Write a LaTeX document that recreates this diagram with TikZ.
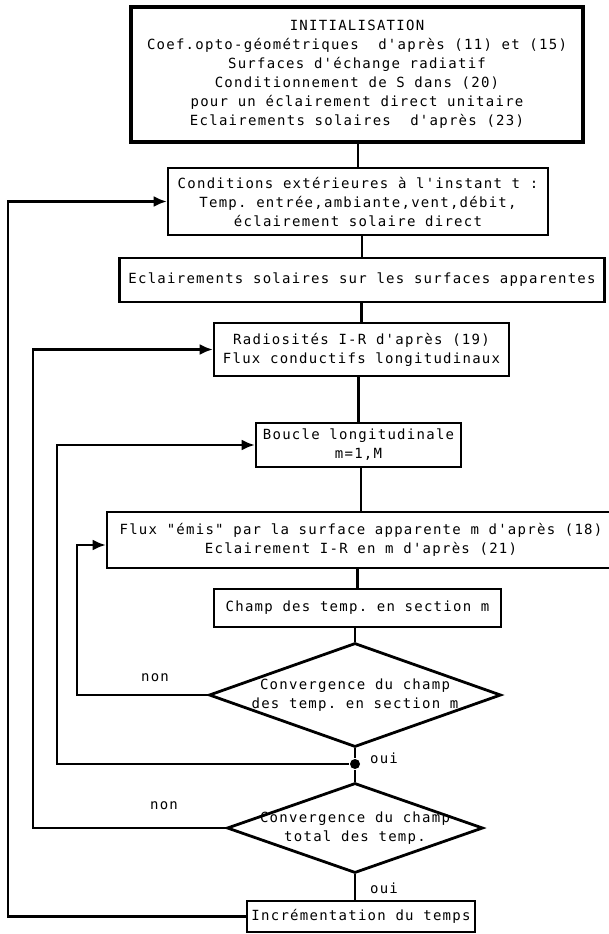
\documentclass[tikz,border=0pt]{standalone}
\usepackage{fontspec}
\setmonofont{DejaVu Sans Mono}[LetterSpace=9]
\usetikzlibrary{shapes.geometric,arrows.meta}
\begin{document}
\begin{tikzpicture}[x=1pt, y=-1pt, line width=2.4pt,
  font=\ttfamily\fontsize{14}{19}\selectfont,
  box/.style={draw, line width=2.6pt, align=center, inner sep=0pt},
  test/.style={draw, diamond, line width=2.8pt, inner sep=0pt},
  jdot/.style={circle, fill, inner sep=0pt, minimum size=10pt},
  >={Latex[length=13pt,width=11pt]}]
\useasboundingbox (0,0) rectangle (609,934);
\node[box, line width=3.6pt, minimum width=452, minimum height=135] (init) at (357,74.5)
  {INITIALISATION\\Coef.opto-géométriques~~d'après (11) et (15)\\Surfaces d'échange radiatif\\
   Conditionnement de S dans (20)\\pour un éclairement direct unitaire\\Eclairements solaires~~d'après (23)};
\node[box, minimum width=380, minimum height=67] (cond) at (358,201.5)
  {Conditions extérieures à l'instant t :\\Temp. entrée,ambiante,vent,débit,\\éclairement solaire direct};
\node[box, minimum width=485, minimum height=44] (sol) at (362,280)
  {Eclairements solaires sur les surfaces apparentes};
\node[box, minimum width=295, minimum height=53] (rad) at (361.5,349.5)
  {Radiosités I-R d'après (19)\\Flux conductifs longitudinaux};
\node[box, minimum width=205, minimum height=44] (bcl) at (358.5,445)
  {Boucle longitudinale\\m=1,M};
\node[box, minimum width=508, minimum height=56] (flux) at (361,540)
  {Flux "émis" par la surface apparente m d'après (18)\\Eclairement I-R en m d'après (21)};
\node[box, minimum width=287, minimum height=38] (champ) at (357.5,608)
  {Champ des temp. en section m};
\node[test, minimum width=292, minimum height=104,
  label={[align=center]center:{Convergence du champ\\des temp. en section m}}] (cvs) at (355,695) {};
\node[jdot] (jn) at (355,764) {};
\node[test, minimum width=256, minimum height=90,
  label={[align=center]center:{Convergence du champ\\total des temp.}}] (cvt) at (355,828) {};
\node[box, minimum width=228, minimum height=31] (incr) at (361,916.5)
  {Incrémentation du temps};
\node (non1) at (155,678) {non};
\node (non2) at (164,806) {non};
\node (oui1) at (384,758) {oui};
\node (oui2) at (384,888) {oui};
\coordinate (xa) at (8,0);
\coordinate (xb) at (33,0);
\coordinate (xc) at (57,0);
\coordinate (xd) at (77,0);
\foreach \a/\b in {init/cond, cond/sol, sol/rad, rad/bcl, bcl/flux, flux/champ, champ/cvs}
  \draw (\b.north |- \a.south) -- (\b.north);
\draw (cvs.south) -- (jn) -- (cvt.north);
\draw (cvt.south) -- (cvt.south |- incr.north);
\draw[->] (incr.west) -- (incr.west -| xa) |- (cond.west);
\draw[->] (cvt.west) -- (cvt.west -| xb) |- (rad.west);
\draw[->] (jn) -- (jn -| xc) |- (bcl.west);
\draw[->] (cvs.west) -- (cvs.west -| xd) |- ([yshift=-5pt]flux.west);
\end{tikzpicture}
\end{document}
